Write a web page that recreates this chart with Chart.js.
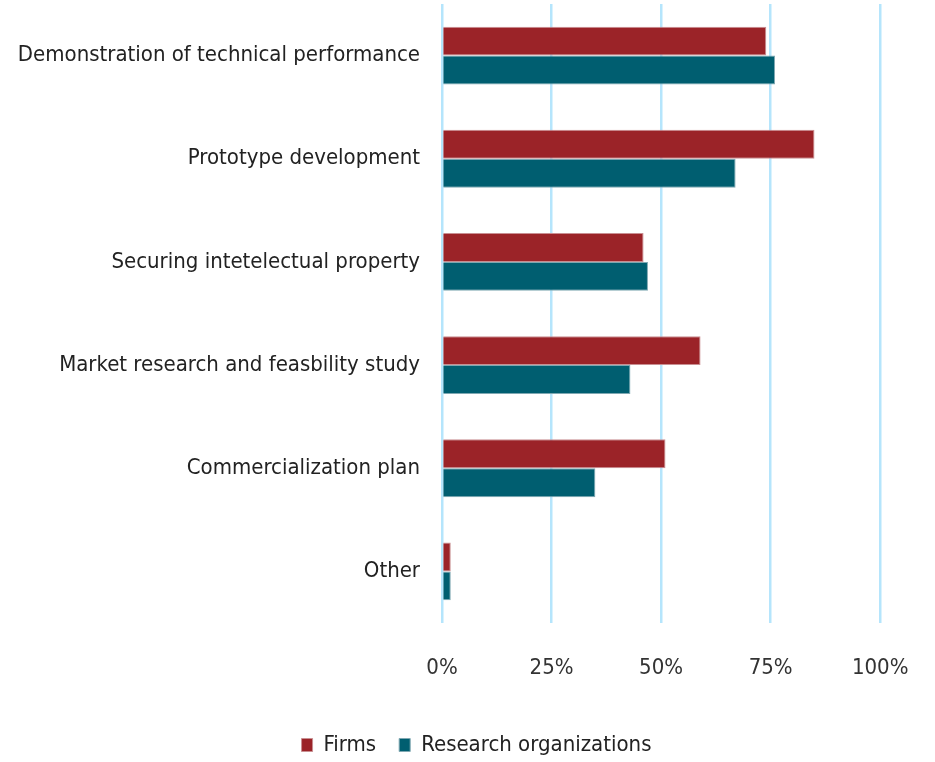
<!DOCTYPE html>
<html>
<head>
<meta charset="utf-8">
<script src="https://cdn.jsdelivr.net/npm/chart.js@4/dist/chart.umd.min.js"></script>
<style>
  html, body { margin: 0; padding: 0; background: #fff; }
  #wrap { width: 935px; height: 762px; }
</style>
</head>
<body>
<div id="wrap"><canvas id="bar-chart"></canvas></div>
<script>
var categories = [
  "Demonstration of technical performance",
  "Prototype development",
  "Securing intetelectual property",
  "Market research and feasbility study",
  "Commercialization plan",
  "Other"
];
var firms = [74, 85, 46, 59, 51, 2];
var researchOrgs = [76, 67, 47, 43, 35, 2];
var xTicks = [0, 25, 50, 75, 100];

var fontFamily = '"Liberation Sans Narrow", "DejaVu Sans Condensed", "Open Sans", sans-serif';

// keep the legend short so it sits near the bottom edge
var legendFit = {
  id: 'legendFit',
  afterInit: function(chart){
    var lg = chart.legend;
    if (!lg) return;
    var orig = lg.fit;
    lg.fit = function(){
      orig.call(this);
      this.height = 51;
    };
  }
};

function createBars(){
  var ctx = document.getElementById('bar-chart').getContext('2d');
  new Chart(ctx, {
    type: 'bar',
    data: {
      labels: categories,
      datasets: [
        {
          label: "Firms",
          data: firms,
          backgroundColor: "#9B2328",
          borderColor: "#c98f92",
          borderWidth: 1
        },
        {
          label: "Research organizations",
          data: researchOrgs,
          backgroundColor: "#005E70",
          borderColor: "#7fa8b2",
          borderWidth: 1
        }
      ]
    },
    plugins: [legendFit],
    options: {
      indexAxis: 'y',
      responsive: true,
      maintainAspectRatio: false,
      animation: false,
      layout: { padding: { top: 4, right: 0, left: 18, bottom: 0 } },
      datasets: { bar: { categoryPercentage: 0.56, barPercentage: 1.0 } },
      scales: {
        x: {
          min: 0,
          max: 112.5,
          afterBuildTicks: function(scale){
            scale.ticks = xTicks.map(function(v){ return { value: v }; });
          },
          afterFit: function(scale){
            scale.height = 88;
            scale.paddingLeft = 0;
            scale.paddingRight = 0;
          },
          grid: { color: "#B5E5FC", lineWidth: 2.5, drawTicks: false },
          border: { display: false },
          ticks: {
            padding: 32,
            color: "#333",
            font: { family: fontFamily, size: 22 },
            callback: function(v){ return v + '%'; }
          }
        },
        y: {
          afterFit: function(scale){
            scale.width = 424;
            scale.paddingTop = 0;
            scale.paddingBottom = 0;
          },
          grid: { display: false, drawTicks: false },
          border: { display: false },
          ticks: {
            padding: 22,
            color: "#222",
            font: { family: fontFamily, size: 22 }
          }
        }
      },
      plugins: {
        legend: {
          position: 'bottom',
          labels: {
            color: "#222",
            font: { family: fontFamily, size: 22 },
            boxWidth: 11,
            boxHeight: 13,
            padding: 23
          }
        },
        tooltip: { enabled: false }
      }
    }
  });
}
createBars();
</script>
</body>
</html>
